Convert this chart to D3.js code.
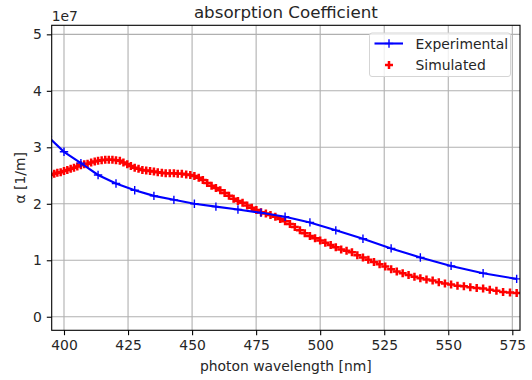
<!DOCTYPE html>
<html>
<head>
<meta charset="utf-8">
<script src="https://cdn.jsdelivr.net/npm/d3@7"></script>
<style>
  body { margin: 0; background: #fff; }
  svg text { font-family: "DejaVu Sans", sans-serif; fill: #262626; }
</style>
</head>
<body>
<div id="chart"></div>
<script>
// experimental points (wavelength nm, alpha in 1e7 1/m)
var expWl    = [393.7, 400.0, 406.6, 413.3, 420.3, 427.6, 435.1, 442.9, 450.9, 459.3, 467.9,
                476.9, 486.3, 496.0, 506.1, 516.7, 527.7, 539.1, 551.1, 563.6, 576.7];
var expAlpha = [3.19, 2.92, 2.72, 2.51, 2.36, 2.24, 2.14, 2.07, 2.00, 1.95, 1.90,
                1.84, 1.77, 1.67, 1.53, 1.38, 1.21, 1.05, 0.90, 0.77, 0.67];

// simulated points
var simWl = [394.9, 396.2, 397.4, 398.7, 400.0, 401.3, 402.6, 403.9, 405.2, 406.6,
             407.9, 409.2, 410.6, 412.0, 413.3, 414.7, 416.1, 417.5, 418.9, 420.3,
             421.8, 423.2, 424.7, 426.1, 427.6, 429.1, 430.6, 432.1, 433.6, 435.1,
             436.6, 438.2, 439.7, 441.3, 442.9, 444.4, 446.0, 447.7, 449.3, 450.9,
             452.6, 454.2, 455.9, 457.6, 459.3, 461.0, 462.7, 464.4, 466.2, 467.9,
             469.7, 471.5, 473.3, 475.1, 476.9, 478.8, 480.6, 482.5, 484.4, 486.3,
             488.2, 490.1, 492.1, 494.0, 496.0, 498.0, 500.0, 502.0, 504.1, 506.1,
             508.2, 510.3, 512.4, 514.5, 516.7, 518.8, 521.0, 523.2, 525.4, 527.7,
             529.9, 532.2, 534.5, 536.8, 539.1, 541.5, 543.9, 546.3, 548.7, 551.1,
             553.6, 556.1, 558.6, 561.1, 563.6, 566.2, 568.8, 571.4, 574.1, 576.7];
var simAlpha = [2.51, 2.53, 2.55, 2.56, 2.58, 2.60, 2.62, 2.64, 2.66, 2.68,
                2.70, 2.71, 2.73, 2.75, 2.76, 2.77, 2.78, 2.78, 2.78, 2.77,
                2.76, 2.73, 2.70, 2.67, 2.64, 2.62, 2.60, 2.59, 2.58, 2.57,
                2.56, 2.55, 2.54, 2.54, 2.54, 2.53, 2.53, 2.52, 2.51, 2.49,
                2.46, 2.42, 2.37, 2.32, 2.28, 2.24, 2.19, 2.14, 2.09, 2.05,
                2.02, 1.97, 1.93, 1.89, 1.85, 1.83, 1.80, 1.77, 1.73, 1.69,
                1.64, 1.59, 1.53, 1.48, 1.43, 1.39, 1.35, 1.31, 1.27, 1.23,
                1.19, 1.17, 1.14, 1.09, 1.05, 1.01, 0.97, 0.93, 0.89, 0.84,
                0.80, 0.77, 0.74, 0.71, 0.68, 0.66, 0.64, 0.61, 0.59, 0.57,
                0.55, 0.54, 0.52, 0.51, 0.50, 0.48, 0.46, 0.44, 0.43, 0.42];

var xTicks = [400, 425, 450, 475, 500, 525, 550, 575];
var yTicks = [0, 1, 2, 3, 4, 5];

var W = 532, H = 380;
var m = {left: 51.7, right: 12, top: 25.3, bottom: 49.7};

var svg = d3.select("#chart").append("svg")
  .attr("width", W).attr("height", H);

var x = d3.scaleLinear().domain([395.2, 578.0]).range([m.left, W - m.right]);
var y = d3.scaleLinear().domain([-0.24, 5.16]).range([H - m.bottom, m.top]);

svg.append("defs").append("clipPath").attr("id", "clip")
  .append("rect")
  .attr("x", m.left).attr("y", m.top)
  .attr("width", W - m.right - m.left).attr("height", H - m.bottom - m.top);

// grid
var grid = svg.append("g");
grid.selectAll(".gx").data(xTicks).enter().append("line")
  .attr("x1", d => x(d)).attr("x2", d => x(d))
  .attr("y1", m.top).attr("y2", H - m.bottom)
  .attr("stroke", "#b0b0b0").attr("stroke-width", 1.1);
grid.selectAll(".gy").data(yTicks).enter().append("line")
  .attr("y1", d => y(d)).attr("y2", d => y(d))
  .attr("x1", m.left).attr("x2", W - m.right)
  .attr("stroke", "#b0b0b0").attr("stroke-width", 1.1);

// axes
var xAxis = svg.append("g")
  .attr("transform", "translate(0," + (H - m.bottom) + ")")
  .call(d3.axisBottom(x).tickValues(xTicks).tickSize(4.9).tickPadding(4.9));
var yAxis = svg.append("g")
  .attr("transform", "translate(" + m.left + ",0)")
  .call(d3.axisLeft(y).tickValues(yTicks).tickFormat(d3.format("d"))
    .tickSize(4.9).tickPadding(4.9));
[xAxis, yAxis].forEach(function(a){
  a.select(".domain").remove();
  a.selectAll("line").attr("stroke", "#000").attr("stroke-width", 1.1);
  a.selectAll("text").attr("font-size", "13.9px").attr("fill", "#262626")
    .style("font-family", "DejaVu Sans");
});

var plot = svg.append("g").attr("clip-path", "url(#clip)");

var expData = expWl.map((d, i) => ({wl: d, a: expAlpha[i]}));
var simData = simWl.map((d, i) => ({wl: d, a: simAlpha[i]}));

function plus(g, s, color, sw) {
  g.append("line").attr("x1", -s).attr("x2", s).attr("y1", 0).attr("y2", 0)
    .attr("stroke", color).attr("stroke-width", sw);
  g.append("line").attr("y1", -s).attr("y2", s).attr("x1", 0).attr("x2", 0)
    .attr("stroke", color).attr("stroke-width", sw);
}

// simulated markers
plot.selectAll(".sim").data(simData).enter().append("g")
  .attr("transform", d => "translate(" + x(d.wl) + "," + y(d.a) + ")")
  .each(function(){ plus(d3.select(this), 4.0, "#ff0000", 2.5); });

// experimental line + markers
var line = d3.line().x(d => x(d.wl)).y(d => y(d.a));
plot.append("path").datum(expData)
  .attr("d", line).attr("fill", "none")
  .attr("stroke", "#0000ff").attr("stroke-width", 2.1);
plot.selectAll(".exp").data(expData).enter().append("g")
  .attr("transform", d => "translate(" + x(d.wl) + "," + y(d.a) + ")")
  .each(function(){ plus(d3.select(this), 4.2, "#0000ff", 1.4); });

// frame
svg.append("rect")
  .attr("x", m.left).attr("y", m.top)
  .attr("width", W - m.right - m.left).attr("height", H - m.bottom - m.top)
  .attr("fill", "none").attr("stroke", "#000").attr("stroke-width", 1.1);

// texts
svg.append("text").attr("x", (m.left + W - m.right) / 2).attr("y", 18)
  .attr("text-anchor", "middle").attr("font-size", "16.7px")
  .text("absorption Coefficient");
svg.append("text").attr("x", m.left).attr("y", 21)
  .attr("font-size", "13.9px").text("1e7");
svg.append("text").attr("x", (m.left + W - m.right) / 2).attr("y", 371)
  .attr("text-anchor", "middle").attr("font-size", "13.9px")
  .text("photon wavelength [nm]");
svg.append("text")
  .attr("transform", "translate(25," + ((m.top + H - m.bottom) / 2) + ") rotate(-90)")
  .attr("text-anchor", "middle").attr("font-size", "13.9px")
  .text("α [1/m]");

// legend
var lg = svg.append("g").attr("transform", "translate(369.5,33)");
lg.append("rect").attr("width", 141).attr("height", 43.5).attr("rx", 2.5)
  .attr("fill", "#fff").attr("fill-opacity", 0.8)
  .attr("stroke", "#d5d5d5").attr("stroke-width", 1);
lg.append("line").attr("x1", 5).attr("x2", 33.5).attr("y1", 10.5).attr("y2", 10.5)
  .attr("stroke", "#0000ff").attr("stroke-width", 2.1);
plus(lg.append("g").attr("transform", "translate(19.5,10.5)"), 4.2, "#0000ff", 1.4);
plus(lg.append("g").attr("transform", "translate(19.5,32)"), 4.0, "#ff0000", 2.5);
lg.append("text").attr("x", 46).attr("y", 15.5).attr("font-size", "13.9px").text("Experimental");
lg.append("text").attr("x", 46).attr("y", 36.5).attr("font-size", "13.9px").text("Simulated");
</script>
</body>
</html>
